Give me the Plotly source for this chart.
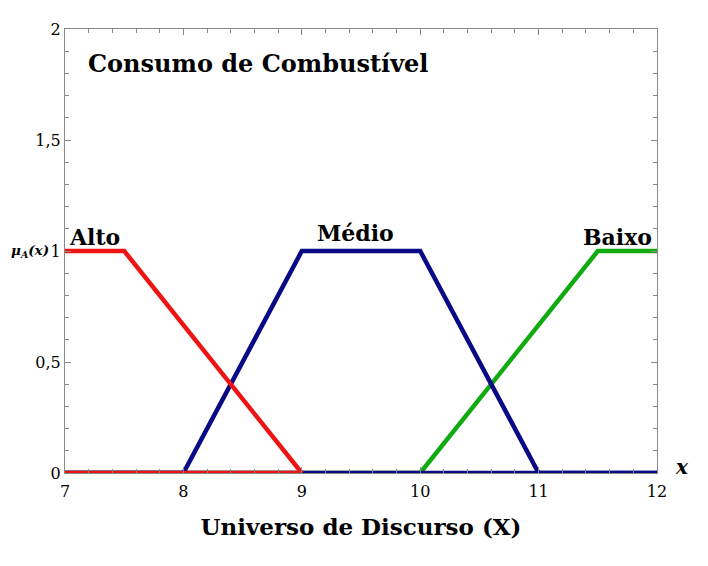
import plotly.graph_objects as go

# Data
alto_x = [7, 7.5, 9, None, 7, 9]
alto_y = [1, 1, 0, None, 0, 0]
medio_x = [7, 8, 9, 10, 11, 12, None, 7, 12]
medio_y = [0, 0, 1, 1, 0, 0, None, 0, 0]
baixo_x = [7, 10, 11.5, 12]
baixo_y = [0, 0, 1, 1]
y_tickvals = [0, 0.5, 1, 1.5, 2]
y_ticktext = ["0", "0,5", "1", "1,5", "2"]
x_tickvals = [7, 8, 9, 10, 11, 12]

FONT = "DejaVu Serif"
fig = go.Figure()
fig.add_trace(go.Scatter(x=baixo_x, y=baixo_y, mode="lines",
                         line=dict(color="rgb(17,170,17)", width=4.5), name="Baixo"))
fig.add_trace(go.Scatter(x=medio_x, y=medio_y, mode="lines", connectgaps=False,
                         line=dict(color="rgb(10,10,135)", width=4.5), name="Médio"))
fig.add_trace(go.Scatter(x=alto_x, y=alto_y, mode="lines", connectgaps=False,
                         line=dict(color="rgb(238,20,20)", width=4.5), name="Alto"))

axis_common = dict(showgrid=False, zeroline=False, showline=True, linecolor="#8a8a8a",
                   linewidth=1, mirror="allticks", ticks="inside", ticklen=6,
                   tickcolor="#8a8a8a", tickfont=dict(family=FONT, size=16, color="black"))
fig.update_xaxes(range=[7, 12], tickvals=x_tickvals, ticklabelstandoff=4,
                 minor=dict(dtick=0.2, ticks="inside", ticklen=4, tickcolor="#8a8a8a"),
                 title=dict(text="<b>Universo de Discurso (X)</b>",
                            font=dict(family=FONT, size=23, color="black"), standoff=18),
                 **axis_common)
fig.update_yaxes(range=[0, 2], tickvals=y_tickvals, ticktext=y_ticktext,
                 minor=dict(dtick=0.1, ticks="inside", ticklen=4, tickcolor="#8a8a8a"),
                 **axis_common)

ann_font = dict(family=FONT, size=22, color="black")
fig.add_annotation(x=7.0, y=1, xref="x", yref="y", text="<b>Alto</b>", showarrow=False,
                   xanchor="left", yanchor="bottom", font=ann_font, xshift=2, yshift=-1)
fig.add_annotation(x=9.45, y=1, xref="x", yref="y", text="<b>Médio</b>", showarrow=False,
                   xanchor="center", yanchor="bottom", font=ann_font, yshift=3)
fig.add_annotation(x=12, y=1, xref="x", yref="y", text="<b>Baixo</b>", showarrow=False,
                   xanchor="right", yanchor="bottom", font=ann_font, xshift=-3, yshift=-1)
fig.add_annotation(x=7.18, y=2, xref="x", yref="y", text="<b>Consumo de Combustível</b>",
                   showarrow=False, xanchor="left", yanchor="top",
                   font=dict(family=FONT, size=24, color="black"), yshift=-18)
fig.add_annotation(x=0, y=1, xref="paper", yref="y", text="<b><i>μ<sub>A</sub>(x)</i></b>",
                   showarrow=False, xanchor="right", yanchor="middle",
                   font=dict(family=FONT, size=13.5, color="black"), xshift=-14)
fig.add_annotation(x=1, y=0, xref="paper", yref="y", text="<b><i>x</i></b>",
                   showarrow=False, xanchor="left", yanchor="middle",
                   font=dict(family=FONT, size=20, color="black"), xshift=16, yshift=6)

fig.update_layout(width=708, height=566, showlegend=False,
                  margin=dict(l=57, r=59, t=21, b=101),
                  plot_bgcolor="white", paper_bgcolor="white",
                  font=dict(family=FONT, color="black"))
fig.write_html("out.html")
